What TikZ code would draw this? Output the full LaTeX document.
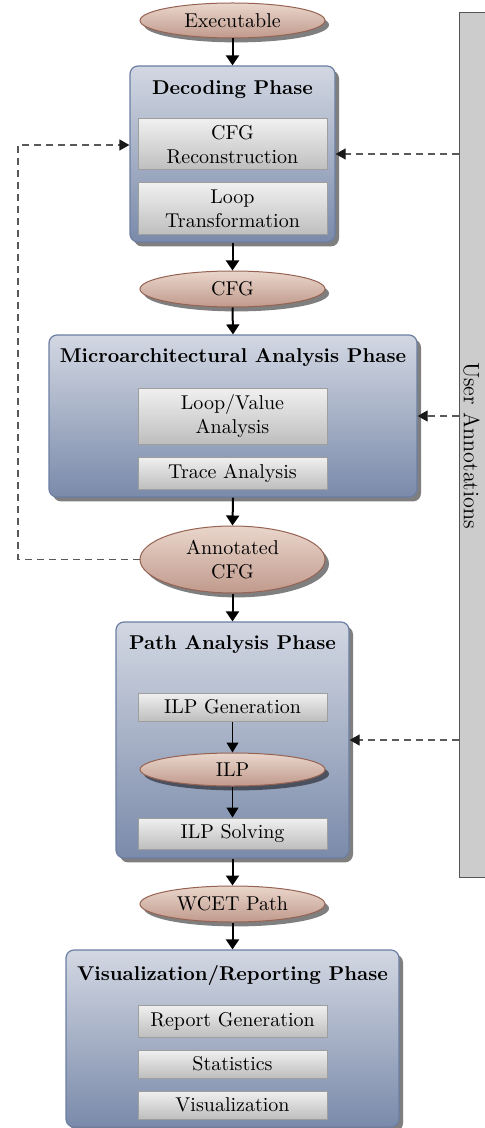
\documentclass[tikz,border=0pt]{standalone}
\usetikzlibrary{shapes.geometric,arrows.meta,shadows}
\definecolor{ellTop}{RGB}{234,214,204}
\definecolor{ellBot}{RGB}{192,154,140}
\definecolor{ellBorder}{RGB}{150,98,82}
\definecolor{phTop}{RGB}{210,215,226}
\definecolor{phBot}{RGB}{122,138,170}
\definecolor{phBorder}{RGB}{108,126,162}
\definecolor{inTop}{RGB}{240,240,240}
\definecolor{inBot}{RGB}{190,190,190}
\definecolor{inBorder}{RGB}{158,158,158}
\definecolor{uaFill}{RGB}{204,204,204}
\definecolor{uaBorder}{RGB}{85,85,85}
\tikzset{
  shad/.style={drop shadow={shadow xshift=2pt,shadow yshift=-2.2pt,fill=black,opacity=0.5}},
  dataell/.style={ellipse,draw=ellBorder,line width=0.5pt,top color=ellTop,bottom color=ellBot,
    inner sep=0pt,minimum width=92.5pt,align=center,shad},
  phasebox/.style={rectangle,rounded corners=4pt,draw=phBorder,line width=0.6pt,top color=phTop,bottom color=phBot,
    inner sep=0pt,shad},
  stepbox/.style={rectangle,draw=inBorder,line width=0.5pt,top color=inTop,bottom color=inBot,
    inner sep=0pt,minimum width=94.5pt,align=center},
  ttl/.style={font=\bfseries,inner sep=0pt},
  flow/.style={line width=1pt,-{Triangle[width=6.5pt,length=5pt]}},
  thinflow/.style={line width=0.5pt,-{Triangle[width=6pt,length=5pt]}},
  dasharrow/.style={line width=0.6pt,draw=black!65,dash pattern=on 3.5pt off 2.5pt,
    -{Triangle[width=5.5pt,length=5pt,color=black!90]}},
}
\begin{document}
\begin{tikzpicture}[x=0.5pt,y=-0.5pt]
\useasboundingbox (0,0) rectangle (485,1128);
% user annotations
\node[rectangle,draw=uaBorder,fill=uaFill,line width=0.6pt,minimum width=15.5pt,minimum height=432.5pt,anchor=north west,inner sep=0pt]
  (ua) at (459,12) {};
\node[rotate=-90,inner sep=0pt,font=\fontsize{11.1}{13}\selectfont] (uat) at (471.5,445.5) {User Annotations};
% nodes
\node[dataell,minimum height=17.5pt] (exe) at (232.5,20.5) {Executable};
\node[phasebox,minimum width=102.5pt,minimum height=88pt] (dec) at (232.5,154) {};
\node[ttl] (dect) at (232.5,90) {Decoding Phase};
\node[stepbox,minimum height=25.5pt] (rec) at (232.5,144.5) {CFG\\Reconstruction};
\node[stepbox,minimum height=26pt] (lt) at (232.5,209) {Loop\\Transformation};
\node[dataell,minimum height=18pt] (cfg) at (232.5,289) {CFG};
\node[phasebox,minimum width=184pt,minimum height=81pt] (mic) at (233,416) {};
\node[ttl] (mict) at (233,358) {Microarchitectural Analysis Phase};
\node[stepbox,minimum height=28pt] (lv) at (232.5,416) {Loop/Value\\Analysis};
\node[stepbox,minimum height=16pt] (tr) at (232.5,473) {Trace Analysis};
\node[dataell,minimum height=33.5pt] (ann) at (232.5,559.5) {Annotated\\CFG};
\node[phasebox,minimum width=116.5pt,minimum height=118pt] (pa) at (232.5,740) {};
\node[ttl] (pat) at (232.5,645) {Path Analysis Phase};
\node[stepbox,minimum height=14pt] (ilpg) at (232.5,707) {ILP Generation};
\node[dataell,minimum height=16.5pt] (ilp) at (232.5,769.5) {ILP};
\node[stepbox,minimum height=15.5pt] (ilps) at (232.5,833.5) {ILP Solving};
\node[dataell,minimum height=18pt] (wcet) at (232.5,904) {WCET Path};
\node[phasebox,minimum width=166.5pt,minimum height=88.5pt] (vis) at (232.5,1038.5) {};
\node[ttl] (vist) at (232.5,975) {Visualization/Reporting Phase};
\node[stepbox,minimum height=16pt] (rg) at (232.5,1021) {Report Generation};
\node[stepbox,minimum height=14pt] (st) at (232.5,1064) {Statistics};
\node[stepbox,minimum height=14pt] (vz) at (232.5,1105) {Visualization};
% flow arrows
\draw[flow] (exe.south) -- (dec.north);
\draw[flow] (dec.south) -- (cfg.north);
\draw[flow] (cfg.south) -- (mic.north);
\draw[flow] (mic.south) -- (ann.north);
\draw[flow] (ann.south) -- (pa.north);
\draw[thinflow] (ilpg.south) -- (ilp.north);
\draw[thinflow] (ilp.south) -- (ilps.north);
\draw[flow] (pa.south) -- (wcet.north);
\draw[flow] (wcet.south) -- (vis.north);
% annotations
\draw[dasharrow] (ua.west |- dec.east) -- (dec.east);
\draw[dasharrow] (ua.west |- mic.east) -- (mic.east);
\draw[dasharrow] (ua.west |- pa.east) -- (pa.east);
% feedback
\coordinate (fb) at (18,145);
\draw[dasharrow] (ann.west) -| (fb) -- (dec.west |- fb);
\end{tikzpicture}
\end{document}
